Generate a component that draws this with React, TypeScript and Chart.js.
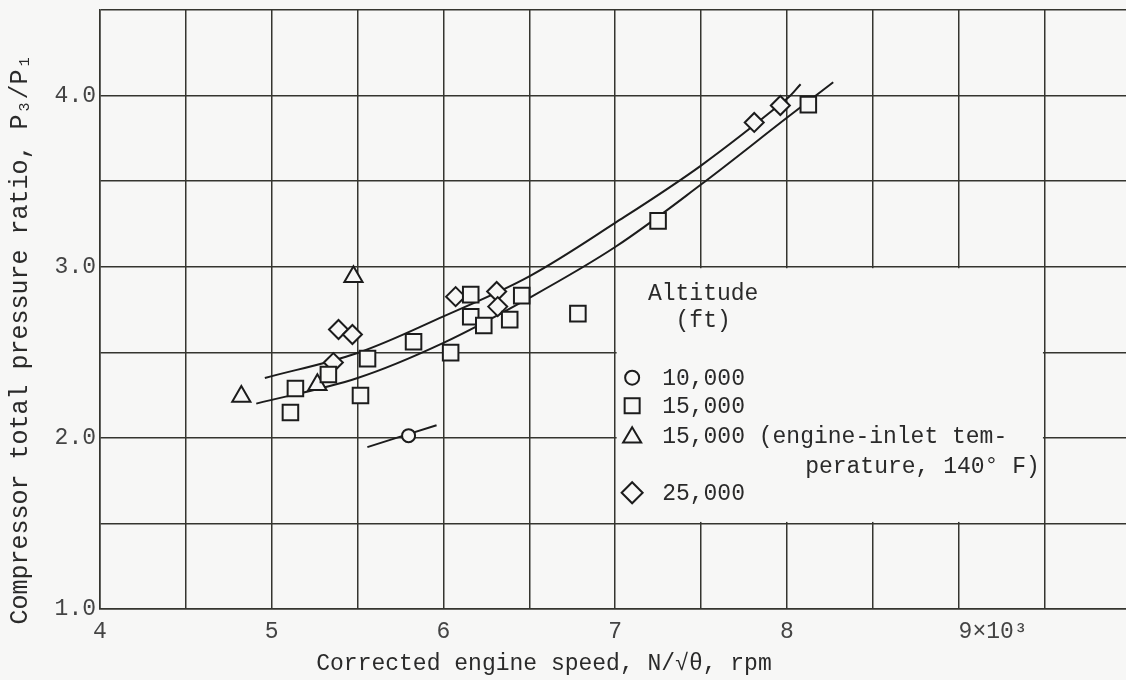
import React, { useEffect, useRef } from 'react';
import { Chart, registerables } from 'chart.js';

Chart.register(...registerables);

// ---- data ----
const xTickValues = [4, 4.5, 5, 5.5, 6, 6.5, 7, 7.5, 8, 8.5, 9, 9.5];
const xTickText: Record<string, string> = { '4': '4', '5': '5', '6': '6', '7': '7', '8': '8', '9': '     9×10³' };
const yTickText: Record<string, string> = { '1': '1.0', '2': '2.0', '3': '3.0', '4': '4.0' };

const alt10kX = [5.797];
const alt10kY = [2.013];

const alt15kX = [5.109, 5.138, 5.33, 5.517, 5.558, 5.826, 6.042, 6.159, 6.159, 6.235, 6.386, 6.456, 6.783, 7.25, 8.125];
const alt15kY = [2.148, 2.288, 2.37, 2.247, 2.463, 2.562, 2.498, 2.837, 2.708, 2.656, 2.691, 2.831, 2.726, 3.268, 3.947];

const alt15kHotX = [4.823, 5.266, 5.476];
const alt15kHotY = [2.241, 2.311, 2.942];

const alt25kX = [5.359, 5.389, 5.47, 6.071, 6.31, 6.316, 7.81, 7.962];
const alt25kY = [2.44, 2.633, 2.604, 2.825, 2.855, 2.767, 3.843, 3.942];

const upperCurveX = [4.96, 5.5, 6.0, 6.5, 7.0, 7.5, 8.0, 8.08];
const upperCurveY = [2.35, 2.496, 2.71, 2.944, 3.256, 3.591, 3.981, 4.066];

const lowerCurveX = [4.91, 5.5, 6.0, 6.5, 7.0, 7.5, 8.0, 8.27];
const lowerCurveY = [2.2, 2.35, 2.555, 2.818, 3.115, 3.48, 3.87, 4.078];

const circleLineX = [5.557, 5.96];
const circleLineY = [1.946, 2.074];

const legendTitle = ['Altitude', '(ft)'];
const legendLabels = ['10,000', '15,000', '15,000 (engine-inlet tem-', 'perature, 140° F)', '25,000'];

// ---- style ----
const BG = '#f7f7f6';
const INK = '#1c1c1c';
const GRID = '#35352f';
const FONT = '"Liberation Mono", "DejaVu Sans Mono", monospace';

const zip = (xs: number[], ys: number[]) => xs.map((x, i) => ({ x, y: ys[i] }));

function drawSymbol(ctx: CanvasRenderingContext2D, kind: string, x: number, y: number, r: number) {
  ctx.beginPath();
  if (kind === 'circle') {
    ctx.arc(x, y, r, 0, Math.PI * 2);
  } else if (kind === 'rect') {
    ctx.rect(x - r, y - r, 2 * r, 2 * r);
  } else if (kind === 'triangle') {
    ctx.moveTo(x, y - r);
    ctx.lineTo(x + r * 0.95, y + r * 0.6);
    ctx.lineTo(x - r * 0.95, y + r * 0.6);
    ctx.closePath();
  } else {
    ctx.moveTo(x - r, y);
    ctx.lineTo(x, y - r);
    ctx.lineTo(x + r, y);
    ctx.lineTo(x, y + r);
    ctx.closePath();
  }
  ctx.fillStyle = BG;
  ctx.fill();
  ctx.stroke();
}

const bgPlugin = {
  id: 'bgPlugin',
  beforeDraw(chart: any) {
    const { ctx, width, height } = chart;
    ctx.save();
    ctx.fillStyle = BG;
    ctx.fillRect(0, 0, width, height);
    ctx.restore();
  },
};

const legendPlugin = {
  id: 'legendPlugin',
  beforeDatasetsDraw(chart: any) {
    const { ctx } = chart;
    const xs = chart.scales.x;
    const ys = chart.scales.y;
    const l = xs.getPixelForValue(7) + 1.5;
    const r = xs.getPixelForValue(9.5) - 1.5;
    const t = ys.getPixelForValue(3) + 1.5;
    const b = ys.getPixelForValue(1.5) - 1.5;
    ctx.save();
    ctx.fillStyle = BG;
    ctx.fillRect(l, t, r - l, b - t);
    ctx.restore();
  },
  afterDatasetsDraw(chart: any) {
    const { ctx } = chart;
    const x0 = chart.scales.x.getPixelForValue(7);
    const y0 = chart.scales.y.getPixelForValue(3);
    ctx.save();
    ctx.font = `23px ${FONT}`;
    ctx.fillStyle = '#2a2a2a';
    ctx.textBaseline = 'middle';
    ctx.textAlign = 'center';
    ctx.fillText(legendTitle[0], x0 + 88, y0 + 27);
    ctx.fillText(legendTitle[1], x0 + 88, y0 + 54);
    ctx.textAlign = 'left';
    const rows = [112, 140, 170, 200, 227];
    legendLabels.forEach((txt, i) => {
      const dx = i === 3 ? 190 : 47;
      ctx.fillText(txt, x0 + dx, y0 + rows[i]);
    });
    ctx.strokeStyle = INK;
    ctx.lineWidth = 2;
    drawSymbol(ctx, 'circle', x0 + 17, y0 + 111, 7);
    drawSymbol(ctx, 'rect', x0 + 17, y0 + 139, 7.5);
    drawSymbol(ctx, 'triangle', x0 + 17, y0 + 170, 9.5);
    drawSymbol(ctx, 'diamond', x0 + 17, y0 + 226, 10.5);
    ctx.restore();
  },
};

export default function App() {
  const ref = useRef<HTMLCanvasElement | null>(null);

  useEffect(() => {
    document.body.style.background = BG;
    if (!ref.current) return;
    const lineStyle = {
      showLine: true,
      pointRadius: 0,
      borderColor: INK,
      borderWidth: 2,
      tension: 0.35,
      fill: false,
    };
    const markerStyle = {
      showLine: false,
      borderColor: INK,
      backgroundColor: BG,
      borderWidth: 2,
    };
    const chart = new Chart(ref.current, {
      type: 'scatter',
      data: {
        datasets: [
          { label: 'upper fairing', data: zip(upperCurveX, upperCurveY), ...lineStyle, order: 5 },
          { label: 'lower fairing', data: zip(lowerCurveX, lowerCurveY), ...lineStyle, order: 5 },
          { label: '10,000 fairing', data: zip(circleLineX, circleLineY), ...lineStyle, order: 5 },
          { label: '10,000', data: zip(alt10kX, alt10kY), ...markerStyle, pointStyle: 'circle', pointRadius: 6.5, order: 1 },
          { label: '15,000', data: zip(alt15kX, alt15kY), ...markerStyle, pointStyle: 'rect', pointRadius: 11, order: 1 },
          { label: '15,000 (engine-inlet temperature, 140° F)', data: zip(alt15kHotX, alt15kHotY), ...markerStyle, pointStyle: 'triangle', pointRadius: 10.5, order: 1 },
          { label: '25,000', data: zip(alt25kX, alt25kY), ...markerStyle, pointStyle: 'rectRot', pointRadius: 9.5, order: 1 },
        ],
      },
      options: {
        responsive: false,
        animation: false,
        events: [],
        layout: { autoPadding: false, padding: { top: 10, right: 0, left: 0, bottom: 0 } },
        plugins: {
          legend: { display: false },
          tooltip: { enabled: false },
          title: { display: false },
        },
        scales: {
          x: {
            type: 'linear',
            min: 4,
            max: 9.975,
            afterBuildTicks: (scale: any) => {
              scale.ticks = xTickValues.map((v) => ({ value: v }));
            },
            afterFit: (scale: any) => {
              scale.height = 71;
              scale.paddingLeft = 0;
              scale.paddingRight = 0;
            },
            grid: { color: GRID, lineWidth: 1.5, drawTicks: false },
            border: { color: GRID, width: 1.5 },
            ticks: {
              autoSkip: false,
              maxRotation: 0,
              padding: 9,
              color: '#444',
              font: { family: FONT, size: 23 },
              callback: (v: any) => xTickText[String(v)] ?? '',
            },
            title: {
              display: true,
              text: 'Corrected engine speed, N/√θ, rpm          ',
              color: '#2a2a2a',
              font: { family: FONT, size: 23 },
              padding: { top: 0, bottom: 2 },
            },
          },
          y: {
            type: 'linear',
            min: 1,
            max: 4.5,
            afterFit: (scale: any) => {
              scale.width = 100;
              scale.paddingTop = 0;
              scale.paddingBottom = 0;
            },
            grid: { color: GRID, lineWidth: 1.5, drawTicks: false },
            border: { color: GRID, width: 1.5 },
            ticks: {
              stepSize: 0.5,
              autoSkip: false,
              padding: 4,
              color: '#444',
              font: { family: FONT, size: 23 },
              callback: (v: any) => yTickText[String(v)] ?? '',
            },
            title: {
              display: true,
              text: 'Compressor total pressure ratio, P₃/P₁    ',
              color: '#2a2a2a',
              font: { family: FONT, size: 25 },
              padding: { top: 5, bottom: 0 },
            },
          },
        },
      },
      plugins: [bgPlugin, legendPlugin],
    });
    return () => chart.destroy();
  }, []);

  return (
    <canvas
      ref={ref}
      width={1126}
      height={680}
      style={{ position: 'fixed', left: 0, top: 0, width: 1126, height: 680, display: 'block' }}
    />
  );
}
